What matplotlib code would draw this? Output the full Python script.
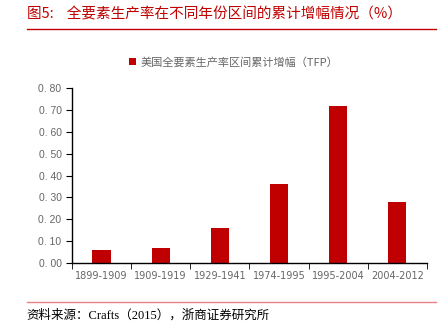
import matplotlib.pyplot as plt
import numpy as np

plt.rcParams['font.family'] = ['Noto Sans CJK SC', 'DejaVu Sans']

# data
periods = ['1899-1909', '1909-1919', '1929-1941', '1974-1995', '1995-2004', '2004-2012']
tfp = [0.06, 0.07, 0.16, 0.36, 0.72, 0.28]
yticks = [0.0, 0.1, 0.2, 0.3, 0.4, 0.5, 0.6, 0.7, 0.8]

red = '#c00000'
grey = '#666666'

fig = plt.figure(figsize=(4.47, 3.25), dpi=100)
ax = fig.add_axes([0.161, 0.191, 0.794, 0.538])

x = np.arange(len(periods))
ax.bar(x, tfp, width=0.31, color=red, label='美国全要素生产率区间累计增幅（TFP）')

ax.set_xlim(-0.5, len(periods) - 0.5)
ax.set_ylim(0, 0.8)
ax.set_yticks(yticks)
ax.set_yticklabels([f'{v:.2f}'.replace('.', '. ') for v in yticks], fontsize=7.5, color=grey,
                   family=['Liberation Sans'])
ax.set_xticks(x)
ax.set_xticklabels(periods, fontsize=7, color=grey, family=['DejaVu Sans'])
ax.tick_params(axis='x', length=0, pad=6)
ax.set_xticks(np.arange(len(periods) + 1) - 0.5, minor=True)
ax.tick_params(axis='x', which='minor', length=4, direction='out', color='black')
ax.tick_params(axis='y', length=4, direction='out', color='black')

for s in ['top', 'right']:
    ax.spines[s].set_visible(False)
for s in ['left', 'bottom']:
    ax.spines[s].set_color('black')
    ax.spines[s].set_linewidth(1.0)

leg = ax.legend(loc='lower center', bbox_to_anchor=(0.455, 1.06), frameon=False,
                fontsize=8, handlelength=0.6, handleheight=0.6, handletextpad=0.4)
for t in leg.get_texts():
    t.set_color(grey)

# title
fig.text(0.06, 0.957, '图5:    全要素生产率在不同年份区间的累计增幅情况（%）',
         fontsize=10.5, color=red, va='center', ha='left')
fig.add_artist(plt.Line2D([0.06, 0.976], [0.91, 0.91], color=red, lw=1.0))

# footer
fig.add_artist(plt.Line2D([0.06, 0.976], [0.071, 0.071], color='#e88080', lw=1.0))
fig.text(0.06, 0.028, '资料来源：Crafts（2015），浙商证券研究所', fontsize=9, color='black',
         va='center', ha='left', family=['Liberation Serif', 'Noto Sans CJK SC'])

fig.savefig('out.png', dpi=100)
